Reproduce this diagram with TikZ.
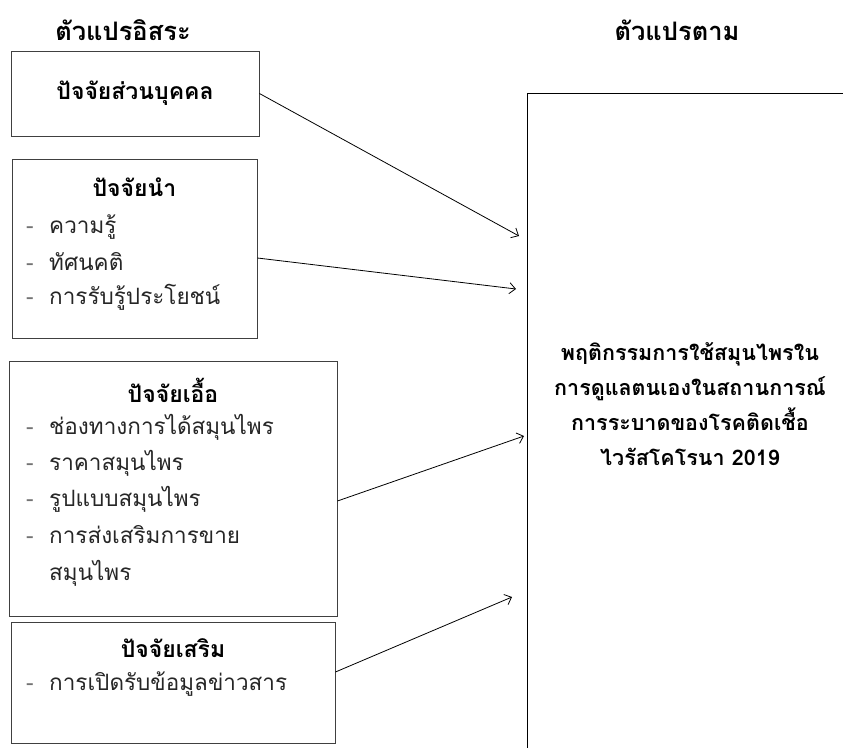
\documentclass[tikz,border=0pt]{standalone}
\usepackage{fontspec}
\newfontfamily\thaifont[Script=Thai]{Loma}
\usetikzlibrary{positioning,arrows.meta}

\begin{document}
\begin{tikzpicture}[
x=1pt,y=-1pt,
>=stealth,
box/.style={
	draw=black!75,
	line width=0.9pt,
	inner sep=0pt
},
head/.style={
	font=\thaifont\bfseries\fontsize{23}{26}\selectfont
},
title/.style={
	font=\thaifont\bfseries\fontsize{25.5}{28}\selectfont
},
item/.style={
	anchor=west,
	inner sep=0pt,
	text=black!85,
	font=\thaifont\fontsize{22.5}{26}\selectfont
},
projection/.style={
	-{Straight Barb[length=6pt,width=11pt]},
	line width=0.8pt
}
]
\clip (0,0) rectangle (843,747);

\node[title] (indep) at (123,30) {ตัวแปรอิสระ};
\node[title] (dep) at (677,30) {ตัวแปรตาม};

% left boxes
\node[box,minimum width=248pt,minimum height=85pt] (b1) at (135,93.5) {};
\node[box,minimum width=245pt,minimum height=179pt] (b2) at (134.5,248.5) {};
\node[box,minimum width=328pt,minimum height=255pt] (b3) at (173,488.5) {};
\node[box,minimum width=324pt,minimum height=121pt] (b4) at (173,682.5) {};

% right box
\node[draw,line width=0.9pt,minimum width=400pt,minimum height=720pt] (out) at (727,453) {};

\node[head] (h1) at (135,93) {ปัจจัยส่วนบุคคล};
\node[head] (h2) at (134.5,187) {ปัจจัยนำ};
\node[head] (h3) at (173,390) {ปัจจัยเอื้อ};
\node[head] (h4) at (173,648) {ปัจจัยเสริม};

\foreach \y/\l [count=\i] in {227/ความรู้,262/ทัศนคติ,297/การรับรู้ประโยชน์}
\node[item] (p\i) at (26,\y) {\makebox[23pt][l]{\textcolor{black!55}{-}}\l};

\foreach \y/\l [count=\i] in {427/ช่องทางการได้สมุนไพร,463/ราคาสมุนไพร,499/รูปแบบสมุนไพร,535/การส่งเสริมการขาย}
\node[item] (e\i) at (26,\y) {\makebox[23pt][l]{\textcolor{black!55}{-}}\l};
\node[item] (e5) at (49,573) {สมุนไพร};

\node[item] (s1) at (26,684) {\makebox[23pt][l]{\textcolor{black!55}{-}}การเปิดรับข้อมูลข่าวสาร};

\node[head,align=center,font=\thaifont\bfseries\fontsize{21.5}{35}\selectfont] (beh) at (690,404)
{พฤติกรรมการใช้สมุนไพรใน\\การดูแลตนเองในสถานการณ์\\การระบาดของโรคติดเชื้อ\\ไวรัสโคโรนา 2019};

\coordinate (t1) at (519,236);
\coordinate (t2) at (516,289);
\coordinate (t3) at (524,436);
\coordinate (t4) at (512,597);

\draw[projection] (b1.east) -- (t1);
\draw[projection] ([yshift=-9.5pt]b2.east) -- (t2);
\draw[projection] ([yshift=-12.5pt]b3.east) -- (t3);
\draw[projection] ([yshift=10.5pt]b4.east) -- (t4);
\end{tikzpicture}
\end{document}
